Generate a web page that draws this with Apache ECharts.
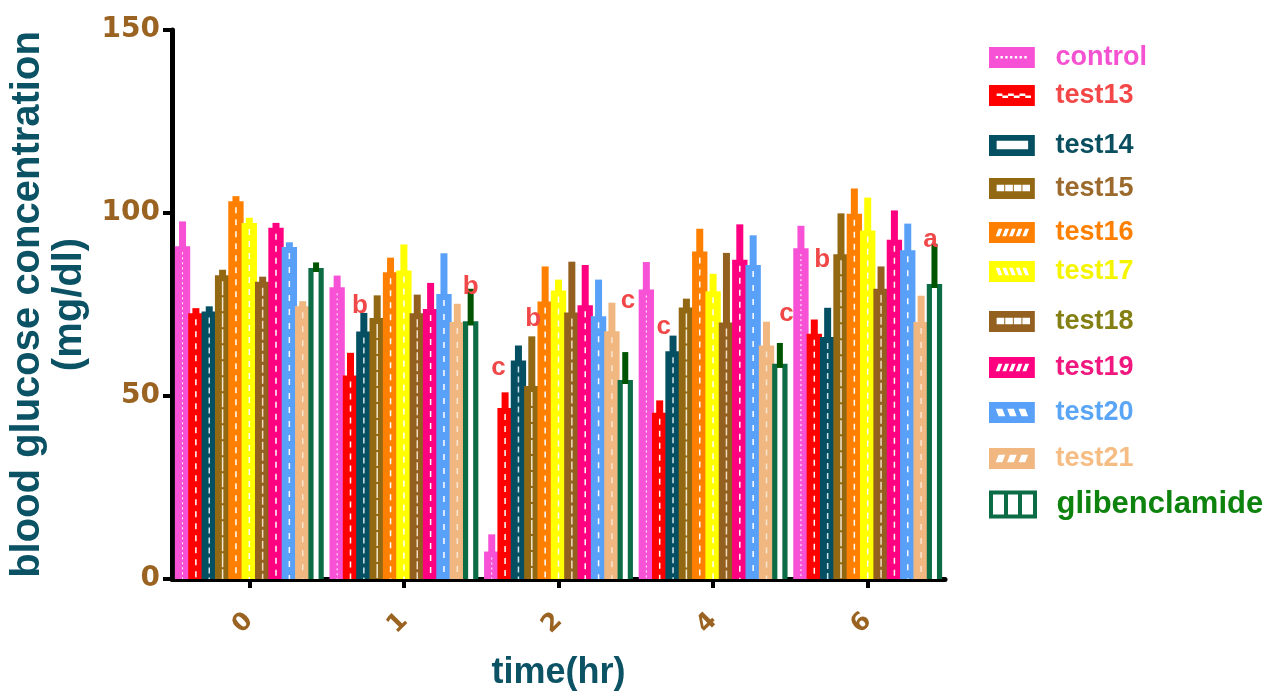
<!DOCTYPE html>
<html>
<head>
<meta charset="utf-8">
<script src="https://cdn.jsdelivr.net/npm/echarts@6/dist/echarts.min.js"></script>
<style>
  html, body { margin: 0; padding: 0; background: #ffffff; }
  #chart { width: 1267px; height: 694px; }
</style>
</head>
<body>
<div id="chart"></div>
<script>
// Time points (hours)
const times = ['0', '1', '2', '4', '6'];

// Group names, in draw order
const groupNames = ['control', 'test13', 'test14', 'test15', 'test16', 'test17',
  'test18', 'test19', 'test20', 'test21', 'glibenclamide'];

// Mean blood glucose (mg/dl) per group at each time point
const control       = [90.9, 79.7,  7.5, 79.1, 90.4];
const test13        = [72.6, 55.6, 46.7, 45.4, 67.0];
const test14        = [73.1, 67.6, 59.7, 62.2, 66.1];
const test15        = [83.0, 71.3, 52.7, 74.2, 88.7];
const test16        = [103.2, 83.8, 75.8, 89.5, 99.8];
const test17        = [97.3, 84.3, 78.8, 78.6, 95.2];
const test18        = [81.2, 72.6, 72.8, 70.1, 79.3];
const test19        = [96.0, 73.8, 74.8, 87.2, 92.7];
const test20        = [90.7, 77.9, 71.8, 85.8, 89.8];
const test21        = [74.5, 70.2, 67.7, 63.8, 70.2];
const glibenclamide = [85.0, 70.4, 54.4, 58.8, 80.6];

// Upper error (SD) per group at each time point
const controlSd       = [6.8, 3.2, 4.7, 7.5, 6.1];
const test13Sd        = [1.4, 6.2, 4.3, 3.4, 3.9];
const test14Sd        = [1.4, 5.1, 4.1, 4.3, 8.0];
const test15Sd        = [1.5, 6.2, 13.6, 2.4, 11.2];
const test16Sd        = [1.4, 4.0, 9.6, 6.2, 6.9];
const test17Sd        = [1.4, 7.1, 3.0, 4.8, 9.0];
const test18Sd        = [1.4, 5.1, 13.9, 19.0, 6.1];
const test19Sd        = [1.3, 7.1, 11.0, 9.7, 8.0];
const test20Sd        = [1.3, 11.1, 10.0, 8.1, 7.3];
const test21Sd        = [1.4, 5.0, 7.8, 6.5, 7.2];
const glibenclamideSd = [1.5, 8.9, 7.6, 5.7, 11.0];

// Significance letters: time index, position within the group, height, letter
const letterTime  = [1, 1, 2, 2, 2, 3, 3, 4, 4];
const letterSlot  = [1.7, 10.0, 0.5, 3.1, 10.2, 1.3, 10.5, 1.6, 9.7];
const letterValue = [74.7, 79.7, 57.7, 71.1, 76.0, 69.0, 72.4, 87.2, 92.7];
const letterText  = ['b', 'b', 'c', 'b', 'c', 'c', 'c', 'b', 'a'];

// Y axis ticks
const yMin = 0, yMax = 150, yStep = 50;

const means = [control, test13, test14, test15, test16, test17, test18, test19, test20, test21, glibenclamide];
const sds = [controlSd, test13Sd, test14Sd, test15Sd, test16Sd, test17Sd, test18Sd, test19Sd, test20Sd, test21Sd, glibenclamideSd];

// Appearance of each group: fill, centre-line dash, legend text colour
const looks = [
  { fill: '#f752d6', line: '#ffffff', dash: [2, 3], lw: 1, text: '#f552d2' },
  { fill: '#ff0000', line: '#ffffff', dash: [6, 6], lw: 1.5, text: '#f44848' },
  { fill: '#044f62', line: '#cfe3ea', dash: [6, 4], lw: 1.5, text: '#0a4f60' },
  { fill: '#936813', line: '#f3e7cf', dash: [14, 2], lw: 1.5, text: '#9b6a2c' },
  { fill: '#ff8000', line: '#ffffff', dash: [6, 6], lw: 1.5, text: '#ff8000' },
  { fill: '#ffff00', line: '#ffffff', dash: [6, 6], lw: 1.5, text: '#f5f500' },
  { fill: '#93601f', line: '#f0dcc0', dash: [8, 3], lw: 1.5, text: '#858014' },
  { fill: '#ff0080', line: '#ffffff', dash: [6, 6], lw: 1.5, text: '#f0187e' },
  { fill: '#58a0f8', line: '#ffffff', dash: [6, 8], lw: 1.5, text: '#5aa5f5' },
  { fill: '#f0b780', line: '#fbe6d2', dash: [6, 8], lw: 1.5, text: '#f5bd84' },
  { fill: '#0c6c46', line: null, dash: null, lw: 0, text: '#0d820d', err: '#005400', hollow: true }
];

const N = groupNames.length;
const GROUP_FILL = 0.95;

// Legend icon shapes (outer box with white cut-outs)
function hole(x, y, w, h) { return 'M' + x + ' ' + y + 'V' + (y + h) + 'H' + (x + w) + 'V' + y + 'Z'; }
function slashHole(a, y0, y1, w, s) { return 'M' + (a + s) + ' ' + y0 + 'L' + a + ' ' + y1 + 'L' + (a + w) + ' ' + y1 + 'L' + (a + w + s) + ' ' + y0 + 'Z'; }
function backHole(a, y0, y1, w, s) { return 'M' + a + ' ' + y0 + 'L' + (a + s) + ' ' + y1 + 'L' + (a + w + s) + ' ' + y1 + 'L' + (a + w) + ' ' + y0 + 'Z'; }
const BOX = 'M0 0H48V22H0Z';
function icon(parts) { return 'path://' + BOX + parts; }
function dots() { let p = ''; for (let x = 7; x < 41; x += 5) p += hole(x, 9.5, 2.5, 2.5); return p; }
function zig() { let p = ''; let k = 0; for (let x = 8; x < 40; x += 6, k++) p += hole(x, k % 2 ? 11 : 9, 6, 2.5); return p; }
function segs() { let p = ''; for (let x = 8; x < 40; x += 9) p += hole(x, 7, 8, 7); return p; }
function slashes(step, w) { let p = ''; for (let a = 7; a + w + 3 < 43; a += step) p += slashHole(a, 7, 15, w, 3); return p; }
function backs(step, w) { let p = ''; for (let a = 7; a + w + 3 < 43; a += step) p += backHole(a, 7, 15, w, 3); return p; }
const glibIcon = 'path://M0 0H48V28H0Z' + hole(4, 4, 40, 20) + 'M15 4H19V24H15Z' + 'M29 4H33V24H29Z';

const icons = [
  icon(dots()),
  icon(zig()),
  icon(hole(8, 6, 33, 9)),
  icon(segs()),
  icon(slashes(7, 4)),
  icon(backs(7, 4)),
  icon(segs()),
  icon(slashes(7, 4)),
  icon(backs(12, 7)),
  icon(slashes(12, 7)),
  glibIcon
];

function makeRenderer(si) {
  const lk = looks[si];
  return function (params, api) {
    const cat = api.value(0);
    const mean = api.value(1);
    const sd = api.value(2);
    const band = api.size([1, 0])[0];
    const slot = band * GROUP_FILL / N;
    const base = api.coord([cat, 0]);
    const cx = base[0] + (si - (N - 1) / 2) * slot;
    const y0 = base[1];
    const y1 = api.coord([cat, mean])[1];
    const y2 = api.coord([cat, mean + sd])[1];
    const w = slot * 1.15;
    const ew = 7;
    const children = [];
    if (lk.hollow) {
      children.push({ type: 'rect', shape: { x: cx - w / 2, y: y1, width: w, height: y0 - y1 }, style: { fill: lk.fill } });
      children.push({ type: 'rect', shape: { x: cx - 2.5, y: y1 + 4, width: 5, height: y0 - y1 - 4 }, style: { fill: '#ffffff' } });
      children.push({ type: 'rect', shape: { x: cx - 3, y: y2, width: 6, height: y1 - y2 + 4 }, style: { fill: lk.err } });
    } else {
      children.push({ type: 'rect', shape: { x: cx - ew / 2, y: y2, width: ew, height: y1 - y2 + 1 }, style: { fill: lk.fill } });
      children.push({ type: 'rect', shape: { x: cx - w / 2, y: y1, width: w, height: y0 - y1 }, style: { fill: lk.fill } });
      children.push({ type: 'line', shape: { x1: cx, y1: y1 + 6, x2: cx, y2: y0 },
        style: { stroke: lk.line, lineWidth: lk.lw, lineDash: lk.dash } });
    }
    return { type: 'group', children: children };
  };
}

const series = groupNames.map(function (name, si) {
  return {
    name: name,
    type: 'custom',
    renderItem: makeRenderer(si),
    encode: { x: 0, y: 1 },
    itemStyle: { color: looks[si].fill },
    data: times.map(function (t, ti) { return [ti, means[si][ti], sds[si][ti]]; }),
    z: 2
  };
});

series.push({
  name: 'letters',
  type: 'custom',
  z: 5,
  encode: { x: 0, y: 1 },
  renderItem: function (params, api) {
    const cat = api.value(0);
    const val = api.value(1);
    const slotPos = api.value(2);
    const band = api.size([1, 0])[0];
    const slot = band * GROUP_FILL / N;
    const p = api.coord([cat, val]);
    return {
      type: 'text',
      x: p[0] + (slotPos - (N - 1) / 2) * slot,
      y: p[1],
      style: {
        text: letterText[params.dataIndex],
        fill: '#f04848',
        fontSize: 26,
        fontWeight: 'bold',
        fontFamily: 'Liberation Sans, Arial, sans-serif',
        align: 'center',
        verticalAlign: 'middle'
      }
    };
  },
  data: letterTime.map(function (t, i) { return [t, letterValue[i], letterSlot[i]]; })
});

// One legend block per group so each row sits at its own height
const legendTops = [44, 82, 132, 175, 219, 258, 308, 354, 399, 445, 489];
const legends = groupNames.map(function (name, si) {
  const tall = si === N - 1;
  const h = tall ? 28 : 21;
  return {
    left: 989,
    top: legendTops[si],
    orient: 'vertical',
    padding: 0,
    itemWidth: 49,
    itemHeight: h,
    selectedMode: false,
    data: [{ name: name, icon: icons[si] }],
    textStyle: {
      color: looks[si].text,
      fontSize: tall ? 31 : 27,
      fontWeight: 'bold',
      fontFamily: 'Liberation Sans, Arial, sans-serif',
      lineHeight: h,
      padding: [0, 0, 0, 14]
    }
  };
});

const chart = echarts.init(document.getElementById('chart'), null, { renderer: 'canvas' });
chart.setOption({
  backgroundColor: '#ffffff',
  animation: false,
  legend: legends,
  grid: { left: 172, right: 322, top: 30, bottom: 115, containLabel: false, outerBoundsMode: 'none' },
  xAxis: {
    type: 'category',
    data: times,
    name: 'time(hr)',
    nameLocation: 'middle',
    nameGap: 76,
    nameTextStyle: { color: '#0b5264', fontSize: 36, fontWeight: 'bold', fontFamily: 'Liberation Sans, Arial, sans-serif' },
    axisLine: { show: true, lineStyle: { color: '#000000', width: 5 } },
    axisTick: { show: true, alignWithLabel: true, length: 9, lineStyle: { color: '#000000', width: 4 } },
    axisLabel: { rotate: 45, margin: 38, color: '#9a6322', fontSize: 25, fontWeight: 'bold', fontFamily: 'DejaVu Sans, sans-serif' },
    splitLine: { show: false }
  },
  yAxis: {
    type: 'value',
    min: yMin,
    max: yMax,
    interval: yStep,
    name: 'blood glucose concentration\n(mg/dl)',
    nameLocation: 'middle',
    nameGap: 77,
    nameTextStyle: { color: '#0b5264', fontSize: 40, lineHeight: 42, fontWeight: 'bold', fontFamily: 'Liberation Sans, Arial, sans-serif', align: 'center' },
    axisLine: { show: true, lineStyle: { color: '#000000', width: 5 } },
    axisTick: { show: true, length: 9, lineStyle: { color: '#000000', width: 4 } },
    axisLabel: { margin: 12, color: '#9a6322', fontSize: 28, fontWeight: 'bold', fontFamily: 'DejaVu Sans, sans-serif' },
    splitLine: { show: false }
  },
  series: series
});
</script>
</body>
</html>
